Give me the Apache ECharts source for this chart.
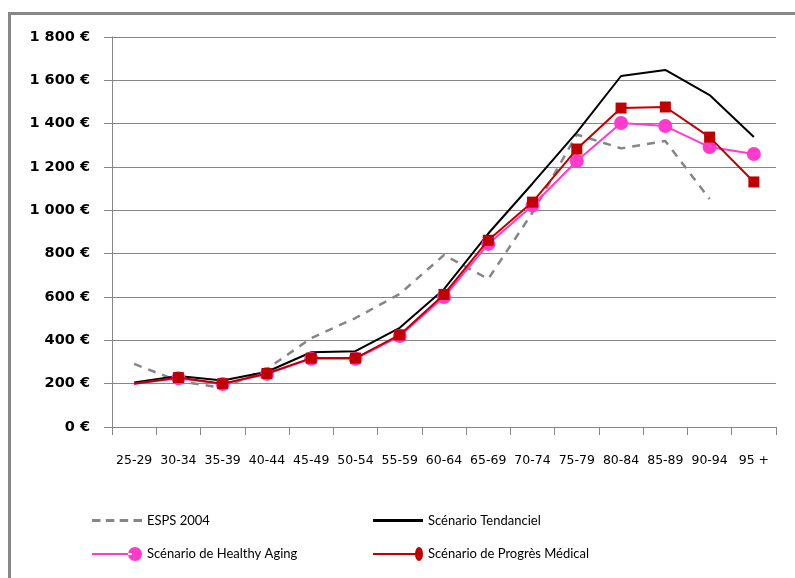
<!DOCTYPE html>
<html>
<head>
<meta charset="utf-8">
<script src="https://cdn.jsdelivr.net/npm/echarts@6/dist/echarts.min.js"></script>
<style>html,body{margin:0;padding:0;background:#fff}#c{width:795px;height:578px}</style>
</head>
<body>
<div id="c"></div>
<script>
const categories = ['25-29','30-34','35-39','40-44','45-49','50-54','55-59','60-64','65-69','70-74','75-79','80-84','85-89','90-94','95 +'];
const esps2004 = [291, 212, 180, 268, 410, 503, 614, 794, 683, 990, 1350, 1286, 1320, 1052, null];
const tendanciel = [205, 235, 215, 255, 345, 350, 458, 636, 893, 1124, 1360, 1620, 1648, 1532, 1338];
const healthyAging = [200, 225, 198, 245, 315, 315, 420, 600, 845, 1022, 1228, 1403, 1389, 1292, 1260];
const progresMedical = [200, 228, 200, 247, 318, 318, 425, 612, 862, 1038, 1283, 1472, 1477, 1338, 1131];
const yTicks = [0, 200, 400, 600, 800, 1000, 1200, 1400, 1600, 1800];

const FONT = 'Lato';
function fmt(v){ return String(v).replace(/\B(?=(\d{3})+(?!\d))/g, ' ') + ' €'; }
function firstNoSymbol(arr){ return arr.map((v,i)=> i===0 ? {value:v, symbol:'none'} : v); }

// legend icons (line + marker at right end, as in the reference)
const ICON_DASH = 'path://M0,0 H8 V2.6 H0 Z M13,0 H21 V2.6 H13 Z M26,0 H34 V2.6 H26 Z M39,0 H47 V2.6 H39 Z';
const ICON_LINE = 'path://M0,0 H50 V2.8 H0 Z';
const ICON_CIRCLE = 'path://M0,6 L40,6 L40,8 L0,8 Z M36,7 a7,7 0 1,0 14,0 a7,7 0 1,0 -14,0 Z';
const ICON_RED = 'path://M0,6 L43,6 L43,8 L0,8 Z M42,7 a4,7 0 1,1 8,0 a4,7 0 1,1 -8,0 Z';

const chart = echarts.init(document.getElementById('c'), null, {renderer:'canvas'});
const legendBase = { itemWidth: 50, itemHeight: 14, padding: 0, textStyle:{fontFamily:FONT, fontSize:13, color:'#000'} };
chart.setOption({
  animation:false,
  backgroundColor:'#fff',
  textStyle:{fontFamily:FONT},
  graphic:[{type:'rect', shape:{x:9.5, y:13.5, width:820, height:620}, style:{fill:'none', stroke:'#888', lineWidth:3}, silent:true}],
  grid:{left:112, right:19, top:37, bottom:151, containLabel:false},
  xAxis:{type:'category', data:categories, boundaryGap:true,
    axisLine:{lineStyle:{color:'#868686', width:1}},
    axisTick:{show:true, length:8, inside:false, lineStyle:{color:'#868686'}},
    axisLabel:{margin:27, fontFamily:'DejaVu Sans', fontSize:12.5, color:'#000', interval:0}},
  yAxis:{type:'value', min:yTicks[0], max:yTicks[yTicks.length-1], interval:200,
    axisLine:{show:true, lineStyle:{color:'#868686'}},
    axisTick:{show:true, length:8, lineStyle:{color:'#868686'}},
    splitLine:{show:true, lineStyle:{color:'#868686', width:1}},
    axisLabel:{margin:22, fontFamily:'DejaVu Sans', fontSize:14.5, fontWeight:'bold', color:'#000', formatter:fmt}},
  legend:[
    Object.assign({}, legendBase, {left:92, top:514, data:[{name:'ESPS 2004', icon:ICON_DASH}]}),
    Object.assign({}, legendBase, {left:373, top:514, data:[{name:'Scénario Tendanciel', icon:ICON_LINE}]}),
    Object.assign({}, legendBase, {left:92, top:547, data:[{name:'Scénario de Healthy Aging', icon:ICON_CIRCLE}]}),
    Object.assign({}, legendBase, {left:373, top:547, data:[{name:'Scénario de Progrès Médical', icon:ICON_RED}]})
  ],
  series:[
    {name:'ESPS 2004', type:'line', data:esps2004, symbol:'none', connectNulls:false,
      lineStyle:{color:'#868686', width:2.5, type:[8,7]}, itemStyle:{color:'#868686'}, z:1},
    {name:'Scénario Tendanciel', type:'line', data:tendanciel, symbol:'none',
      lineStyle:{color:'#000', width:2}, itemStyle:{color:'#000'}, z:2},
    {name:'Scénario de Healthy Aging', type:'line', data:firstNoSymbol(healthyAging), symbol:'circle', symbolSize:14, showAllSymbol:true,
      lineStyle:{color:'#FF3ACD', width:2}, itemStyle:{color:'#FF3ACD'}, z:3},
    {name:'Scénario de Progrès Médical', type:'line', data:firstNoSymbol(progresMedical), symbol:'rect', symbolSize:11, showAllSymbol:true,
      lineStyle:{color:'#C00000', width:2}, itemStyle:{color:'#C00000'}, z:4}
  ]
});
</script>
</body>
</html>
